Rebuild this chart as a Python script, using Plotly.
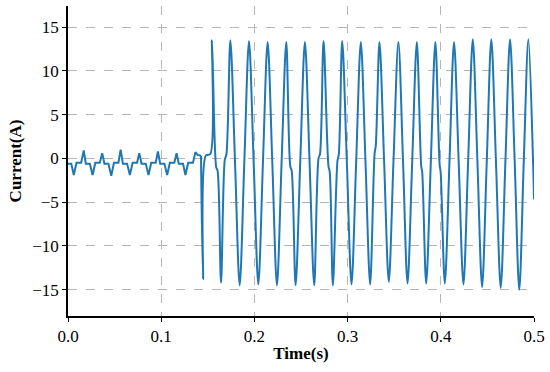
import plotly.graph_objects as go

# Pre-fault segment, time in s, current in A
t_pre = [0.0000, 0.0035, 0.0062, 0.0091, 0.0141, 0.0169, 0.0191, 0.0234,
         0.0264, 0.0293, 0.0341, 0.0367, 0.0391, 0.0434,
         0.0464, 0.0493, 0.0541, 0.0565, 0.0589, 0.0634,
         0.0664, 0.0693, 0.0741, 0.0765, 0.0789, 0.0834,
         0.0864, 0.0893, 0.0941, 0.0965, 0.0989, 0.1034,
         0.1064, 0.1093, 0.1141, 0.1165, 0.1189, 0.1234,
         0.1260, 0.1290, 0.1341, 0.1367, 0.1391, 0.1427]
i_pre = [-0.6, -0.6, -1.9, -0.5, -0.5, 0.9, -0.6, -0.6,
         -1.9, -0.5, -0.5, 0.6, -0.6, -0.6,
         -2.0, -0.5, -0.5, 1.0, -0.6, -0.6,
         -1.9, -0.5, -0.5, 0.6, -0.6, -0.6,
         -1.9, -0.5, -0.5, 0.8, -0.6, -0.6,
         -1.9, -0.5, -0.5, 0.6, -0.6, -0.6,
         -1.9, -0.5, -0.5, 0.7, 0.4, 0.3]

# Post-fault segment (peaks, troughs, crossings)
t_post = [0.1427, 0.1449, 0.1478, 0.1527, 0.1545, 0.1590, 0.1605, 0.1642,
          0.1682, 0.1700, 0.1742, 0.1792, 0.1842, 0.1892, 0.1942, 0.1992,
          0.2042, 0.2092, 0.2142, 0.2192, 0.2242, 0.2292, 0.2342, 0.2385,
          0.2400, 0.2442, 0.2492, 0.2542, 0.2592, 0.2642, 0.2688, 0.2704,
          0.2742, 0.2795, 0.2808, 0.2842, 0.2892, 0.2905, 0.2942, 0.2992,
          0.3042, 0.3092, 0.3142, 0.3192, 0.3242, 0.3290, 0.3302, 0.3342,
          0.3392, 0.3442, 0.3492, 0.3545, 0.3595, 0.3643, 0.3693, 0.3743,
          0.3790, 0.3800, 0.3843, 0.3893, 0.3942, 0.3988, 0.3998, 0.4043,
          0.4093, 0.4142, 0.4192, 0.4243, 0.4293, 0.4343, 0.4393, 0.4443,
          0.4493, 0.4542, 0.4592, 0.4643, 0.4693, 0.4743, 0.4793, 0.4842,
          0.4890, 0.4940, 0.4990, 0.5000]
i_post = [0.3, -13.8, 0.3, 0.5, 13.5, -1.0, -1.4, -14.2,
          -0.2, 0.5, 13.5, -0.4, -14.5, -0.4, 13.4, -0.4,
          -14.4, -0.4, 13.3, -0.4, -14.5, -0.4, 13.3, -0.9,
          -1.4, -14.5, -0.4, 13.3, -0.4, -14.5, 0.0, 0.5,
          13.4, -0.9, -1.5, -14.5, -0.2, 0.4, 13.4, -0.4,
          -14.4, -0.4, 13.3, -0.4, -14.4, 0.6, 1.4, 13.3,
          -0.4, -14.1, -0.4, 13.3, -0.4, -14.3, -0.4, 13.3,
          -0.9, -1.5, -14.3, -0.4, 13.3, -0.8, -1.5, -14.3,
          -0.4, 13.3, -0.4, -14.4, -0.4, 13.6, -0.4, -14.7,
          -0.4, 13.6, -0.4, -14.8, -0.4, 13.6, -0.4, -15.0,
          -0.4, 13.6, -0.4, -4.7]

x_ticks = [0.0, 0.1, 0.2, 0.3, 0.4, 0.5]
y_ticks = [-15, -10, -5, 0, 5, 10, 15]

color = "#1f77b4"
fig = go.Figure()
fig.add_trace(go.Scatter(x=t_pre, y=i_pre, mode="lines",
                         line=dict(color=color, width=2), showlegend=False))
fig.add_trace(go.Scatter(x=t_post, y=i_post, mode="lines",
                         line=dict(color=color, width=2, shape="spline", smoothing=0.9),
                         showlegend=False))

tick_font = dict(family="Liberation Serif", size=17, color="black")
title_font = dict(family="Liberation Serif", size=17, color="black")
common = dict(showgrid=True, gridcolor="#b5b5b5", griddash="dash", gridwidth=1,
              showline=True, linecolor="black", linewidth=1.7,
              ticks="outside", ticklen=4, tickwidth=1.2, tickcolor="black",
              zeroline=False, tickfont=tick_font, automargin=False)

fig.update_layout(
    width=550, height=372,
    margin=dict(l=68, r=16, t=6, b=56),
    plot_bgcolor="white", paper_bgcolor="white",
    font=tick_font,
    xaxis=dict(range=[0, 0.5], tickvals=x_ticks, tickformat=".1f",
               title=dict(text="<b>Time(s)</b>", font=title_font, standoff=2), **common),
    yaxis=dict(range=[-18, 17.4], tickvals=y_ticks,
               title=dict(text="<b>Current(A)</b>", font=title_font, standoff=6), **common),
)

fig.write_html("out.html", config={"displayModeBar": False},
               post_script="document.body.style.margin='0';document.body.style.padding='0';")
